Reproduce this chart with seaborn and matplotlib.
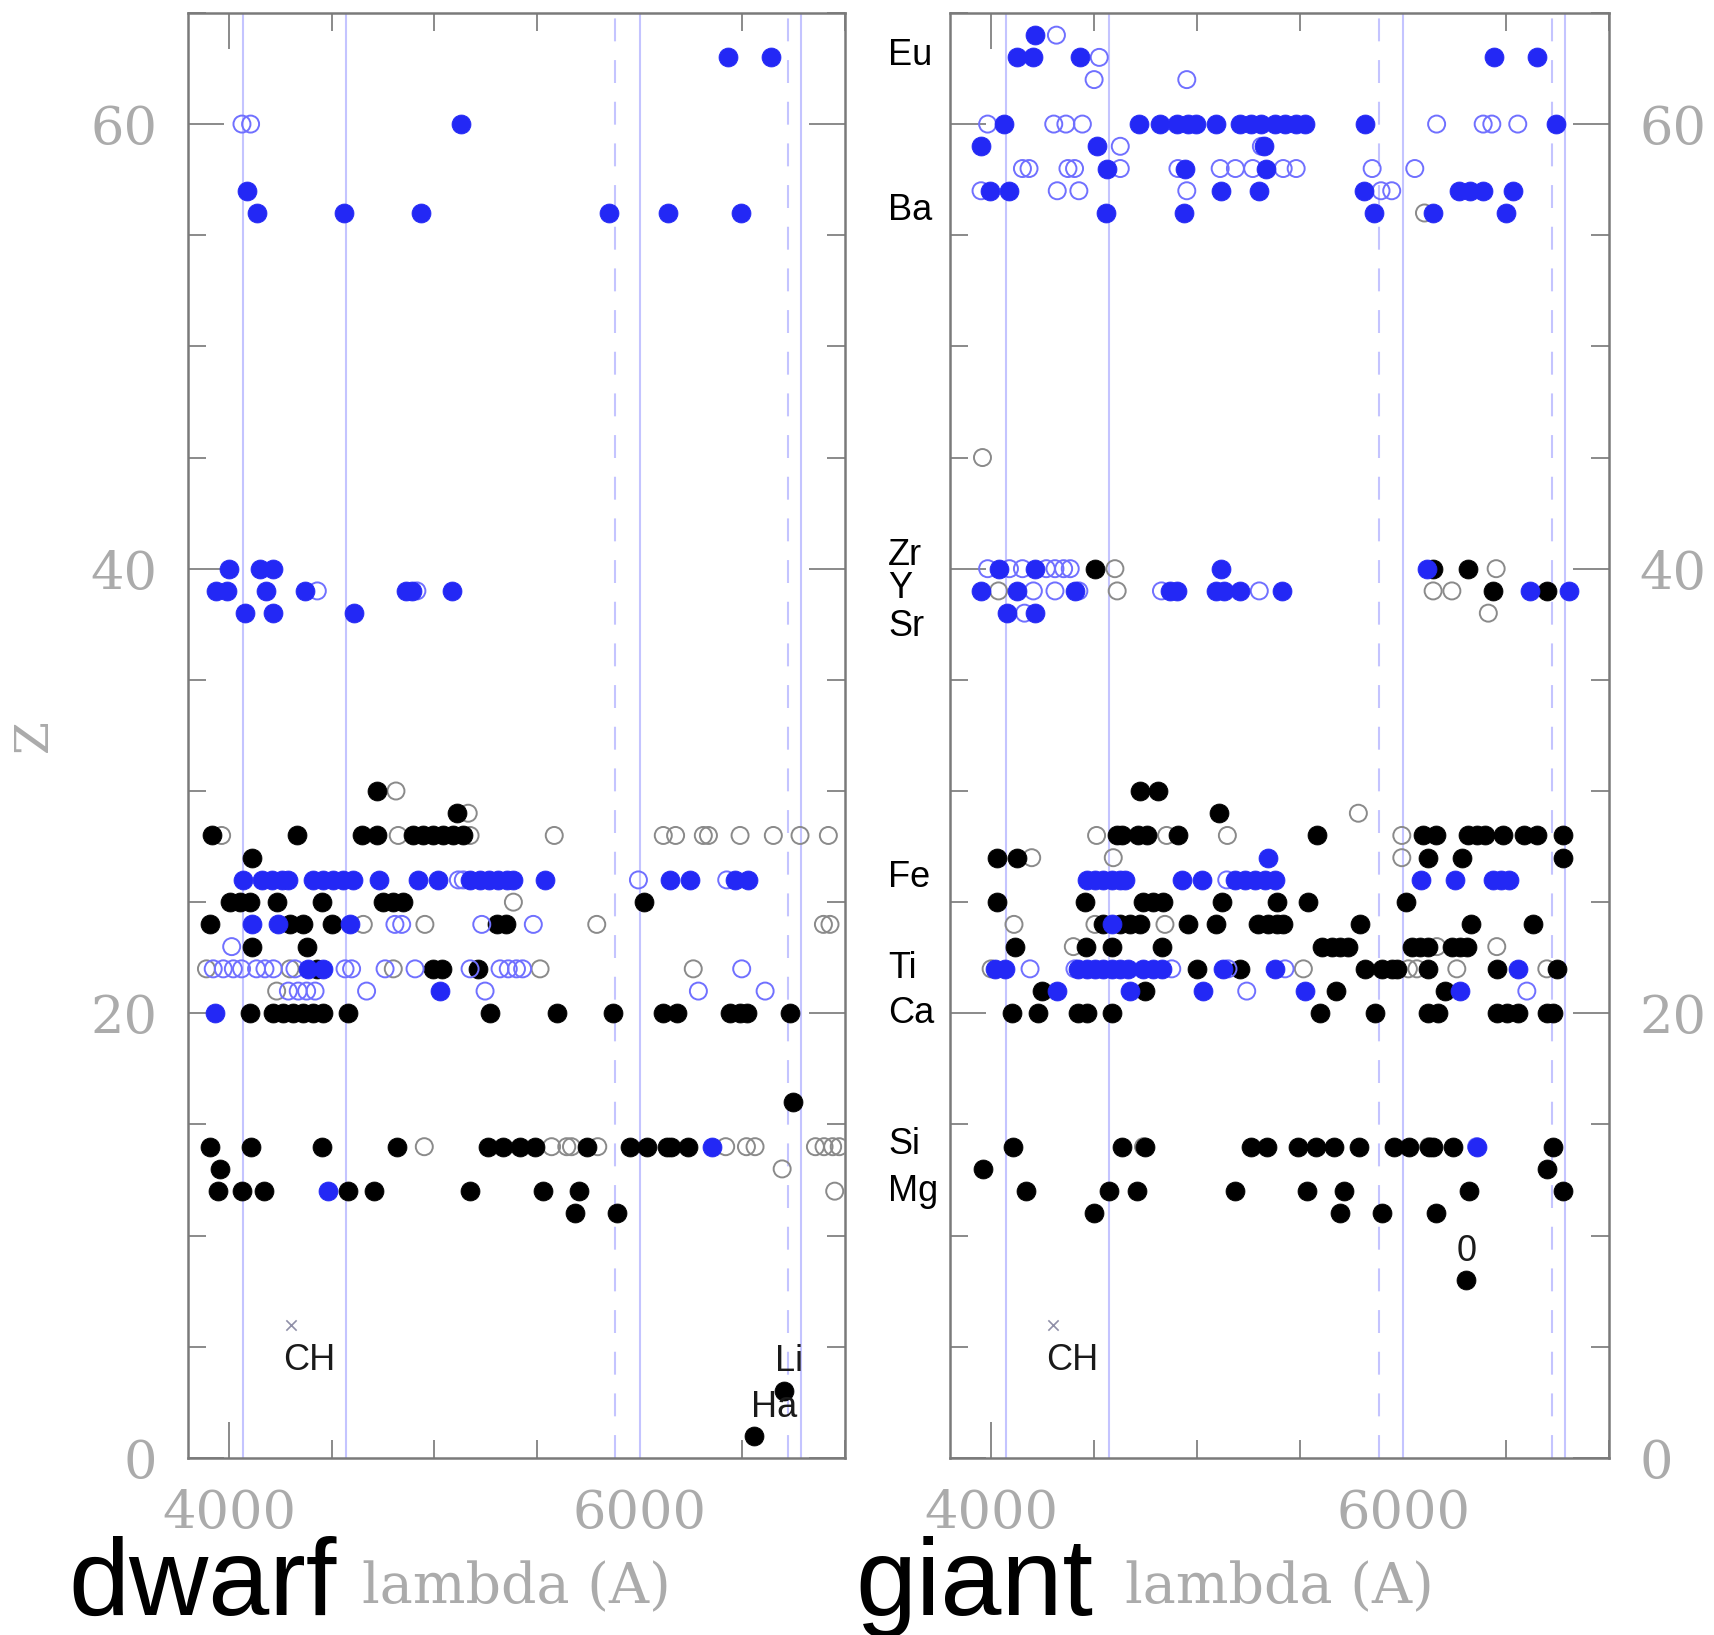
import matplotlib
matplotlib.use("Agg")
import numpy as np
import pandas as pd
import matplotlib.pyplot as plt
import seaborn as sns
from matplotlib.ticker import FixedLocator, MultipleLocator

# ---------------------------------------------------------------------------
# Line list: atomic number Z versus wavelength (Angstrom) of measured lines.
# Each dict maps Z -> wavelengths, split by panel and by symbol type.
# ---------------------------------------------------------------------------
dwarf_filled_black = {
    30: [4722],
    29: [5109],
    28: [3915, 4329, 4646, 4719, 4898, 4946, 4995, 5044, 5092, 5141],
    27: [4110],
    25: [4005, 4053, 4102, 4232, 4451, 4751, 4800, 4849, 6023],
    24: [3907, 4297, 4362, 4500, 5304, 5350],
    23: [4110, 4378],
    22: [4427, 4995, 5036, 5211],
    20: [4102, 4216, 4264, 4313, 4362, 4410, 4459, 4581, 5271, 5599, 5872,
         6115, 6180, 6440, 6489, 6521, 6732],
    16: [6747],
    14: [3906, 4105, 4452, 4819, 5260, 5334, 5418, 5491, 5743, 5953, 6037,
         6132, 6153, 6237],
    13: [3958],
    12: [3948, 4063, 4172, 4578, 4704, 5176, 5529, 5705],
    11: [5684, 5890],
    3: [6705],
    1: [6558],
}
dwarf_open_gray = {
    30: [4813],
    29: [5165],
    28: [3964, 4824, 5174, 5584, 6115, 6175, 6310, 6335, 6489, 6651, 6781, 6919],
    25: [5385],
    24: [4654, 4954, 5791, 6895, 6927],
    22: [3890, 4297, 4800, 5515, 6261],
    21: [4232],
    14: [4951, 5571, 5645, 5668, 5796, 6419, 6520, 6562, 6856, 6898, 6940, 6972],
    13: [6694],
    12: [6950],
}
dwarf_filled_blue = {
    63: [6432, 6642],
    60: [5130],
    57: [4088],
    56: [4137, 4559, 4935, 5852, 6136, 6493],
    40: [4000, 4153, 4214],
    39: [3937, 3990, 4180, 4368, 4861, 4893, 5088],
    38: [4080, 4216, 4609],
    26: [4070, 4159, 4208, 4258, 4289, 4410, 4459, 4508, 4557, 4606, 4732,
         4922, 5019, 5174, 5220, 5265, 5310, 5355, 5385, 5539, 6148, 6245,
         6464, 6529],
    24: [4110, 4240, 4589],
    22: [4386, 4459],
    21: [5027],
    20: [3932],
    14: [6350],
    12: [4483],
}
dwarf_open_blue = {
    60: [4063, 4105],
    39: [4430, 4915],
    26: [5117, 5141, 5994, 6424],
    24: [4808, 4841, 5231, 5482],
    23: [4013],
    22: [3923, 3972, 4021, 4061, 4134, 4175, 4216, 4321, 4565, 4597, 4760,
         4906, 5174, 5320, 5360, 5400, 5430, 6497],
    21: [4289, 4337, 4378, 4419, 4670, 5247, 6286, 6611],
}

giant_filled_black = {
    40: [4506, 6146, 6315],
    39: [6435, 6701],
    30: [4723, 4812],
    29: [5108],
    28: [4610, 4634, 4715, 4755, 4909, 5581, 6099, 6160, 6317, 6358, 6398,
         6487, 6585, 6650, 6779],
    27: [4027, 4124, 6123, 6285, 6779],
    25: [4030, 4456, 4739, 4787, 4836, 5120, 5390, 5537, 6013],
    24: [4545, 4626, 4674, 4723, 4957, 5092, 5297, 5346, 5390, 5419, 5791,
         6331, 6630],
    23: [4116, 4461, 4585, 4828, 5605, 5654, 5694, 5735, 6042, 6083, 6123,
         6237, 6277, 6310],
    22: [4998, 5209, 5816, 5897, 5945, 5970, 6123, 6455, 6747],
    21: [4245, 4747, 5675, 6204],
    20: [4100, 4229, 4423, 4464, 4585, 5597, 5864, 6123, 6172, 6455, 6504,
         6560, 6698, 6730],
    14: [4106, 4633, 4747, 5260, 5338, 5492, 5576, 5667, 5787, 5956, 6030,
         6125, 6146, 6241, 6726],
    13: [3962, 6701],
    12: [4169, 4574, 4707, 5182, 5534, 5713, 6321, 6775],
    11: [4500, 5692, 5899, 6161],
    8: [6308],
}
giant_open_gray = {
    56: [6104],
    45: [3958],
    40: [4601, 6452],
    39: [4036, 4612, 6146, 6237],
    38: [6414],
    29: [5783],
    28: [4512, 4852, 5147, 5994],
    27: [4197, 4593, 5994],
    24: [4111, 4504, 4844],
    23: [4399, 6164, 6455],
    22: [4000, 5516, 6026, 6067, 6261, 6698],
    14: [4740, 6125],
}
giant_filled_blue = {
    64: [4215],
    63: [4127, 4205, 4433, 6441, 6652],
    60: [4063, 4717, 4821, 4901, 4954, 4996, 5091, 5207, 5260, 5312, 5376,
         5428, 5481, 5523, 5815, 6743],
    59: [3951, 4515, 5323],
    58: [4563, 4943, 5334],
    57: [3994, 4089, 5118, 5302, 5808, 6272, 6325, 6389, 6536],
    56: [4557, 4937, 5861, 6146, 6500],
    40: [4036, 4215, 5118, 6114],
    39: [3951, 4127, 4405, 4869, 4901, 5091, 5133, 5207, 5412, 6616, 6804],
    38: [4078, 4215],
    27: [5346],
    26: [4464, 4504, 4545, 4585, 4626, 4650, 4925, 5022, 5184, 5233, 5281,
         5330, 5379, 6088, 6250, 6439, 6475, 6512],
    24: [4585],
    22: [4019, 4067, 4423, 4464, 4504, 4545, 4585, 4626, 4666, 4739, 4787,
         4828, 5128, 5379, 6560],
    21: [4318, 4674, 5030, 5524, 6277],
    14: [6357],
}
giant_open_blue = {
    64: [4317],
    63: [4525],
    62: [4500, 4950],
    60: [3983, 4304, 4363, 4443, 6163, 6389, 6431, 6557],
    59: [4627, 5312],
    58: [4152, 4184, 4373, 4405, 4627, 4907, 5112, 5186, 5270, 5418, 5481,
         5850, 6057],
    57: [3951, 4321, 4426, 4950, 5893, 5945],
    40: [3983, 4089, 4152, 4268, 4310, 4352, 4384],
    39: [4205, 4310, 4426, 4827, 5302],
    38: [4162],
    26: [5144],
    22: [4189, 4407, 4877, 5150, 5427],
    21: [5241, 6601],
    14: [6357],
}

# Reference wavelengths marked with vertical lines
solid_lines = [4070, 4570, 6000, 6785]
dashed_lines = [5882, 6722]

# Element names written beside the giant panel (name, Z position)
element_names = ["Eu", "Ba", "Zr", "Y", "Sr", "Fe", "Ti", "Ca", "Si", "Mg"]
element_label_z = [63.1, 56.1, 40.6, 39.1, 37.4, 26.1, 22.0, 20.0, 14.1, 12.0]

# Molecular / special features
ch_lambda, ch_z = 4302, 6
x_ticks = [4000, 6000]
y_ticks = [0, 20, 40, 60]


def to_frame(groups):
    rows = []
    for panel, kind, table in groups:
        for z, lams in table.items():
            for lam in lams:
                rows.append((panel, kind, lam, z))
    return pd.DataFrame(rows, columns=["panel", "kind", "lam", "Z"])


lines = to_frame([
    ("dwarf", "open_gray", dwarf_open_gray),
    ("dwarf", "filled_black", dwarf_filled_black),
    ("dwarf", "open_blue", dwarf_open_blue),
    ("dwarf", "filled_blue", dwarf_filled_blue),
    ("giant", "open_gray", giant_open_gray),
    ("giant", "filled_black", giant_filled_black),
    ("giant", "open_blue", giant_open_blue),
    ("giant", "filled_blue", giant_filled_blue),
])

kind_style = {
    "open_gray": dict(color="#8a8a8a", facecolor="none", edgecolor="#8a8a8a",
                      linewidth=1.4, s=150),
    "filled_black": dict(color="black", edgecolor="black", linewidth=0.6, s=185),
    "open_blue": dict(color="#7070ff", facecolor="none", edgecolor="#7070ff",
                      linewidth=1.4, s=150),
    "filled_blue": dict(color="#2328f5", edgecolor="#2328f5", linewidth=0.6, s=185),
}
draw_order = ["open_gray", "filled_black", "open_blue", "filled_blue"]

sns.set_theme(style="white")
plt.rcParams["font.family"] = ["DejaVu Serif"]

fig = plt.figure(figsize=(17.15, 16.35), dpi=100)
ax_d = fig.add_axes([0.1096, 0.1083, 0.3831, 0.8838])
ax_g = fig.add_axes([0.5539, 0.1083, 0.3843, 0.8838])

tick_color = "#ababab"
line_blue = "#c4c4ff"

for ax, panel in [(ax_d, "dwarf"), (ax_g, "giant")]:
    for x in solid_lines:
        ax.axvline(x, color=line_blue, lw=1.5, zorder=1)
    for x in dashed_lines:
        ax.axvline(x, color=line_blue, lw=1.5, ls=(0, (11, 9)), zorder=1)

    sub = lines[lines["panel"] == panel]
    for kind in draw_order:
        part = sub[sub["kind"] == kind]
        sns.scatterplot(data=part, x="lam", y="Z", ax=ax, marker="o",
                        legend=False, zorder=3, **kind_style[kind])

    # CH band marker
    ax.scatter([ch_lambda], [ch_z], marker="x", s=55, color="#9090a8",
               linewidths=1.2, zorder=3)
    ax.text(4393, 4.4, "CH", fontsize=26, family="Liberation Sans",
            color="#1a1a1a", ha="center", va="center")

    ax.set_xlim(3800, 7000)
    ax.set_ylim(0, 65)
    ax.xaxis.set_major_locator(FixedLocator(x_ticks))
    ax.xaxis.set_minor_locator(MultipleLocator(500))
    ax.yaxis.set_major_locator(FixedLocator(y_ticks))
    ax.yaxis.set_minor_locator(MultipleLocator(5))
    ax.tick_params(which="both", direction="in", top=True, right=True,
                   bottom=True, left=True, color="#8a8a8a", width=1.4)
    ax.tick_params(which="major", length=26, labelsize=38,
                   labelcolor=tick_color, pad=22)
    ax.tick_params(which="minor", length=13)
    for sp in ax.spines.values():
        sp.set_color("#7a7a7a")
        sp.set_linewidth(1.8)
    ax.set_xlabel("lambda (A)", fontsize=40, color=tick_color, labelpad=15)
    ax.set_ylabel("")
    ax.grid(False)

ax_d.set_ylabel("Z", fontsize=34, color=tick_color, labelpad=24)
ax_g.tick_params(axis="y", labelleft=False, labelright=True)

# Labels inside the dwarf panel
ax_d.text(6727, 4.33, "Li", fontsize=26, family="Liberation Sans",
          color="#1a1a1a", ha="center", va="center")
ax_d.text(6653, 2.26, "Ha", fontsize=26, family="Liberation Sans",
          color="#1a1a1a", ha="center", va="center")
# Oxygen label in the giant panel
ax_g.text(6308, 9.3, "0", fontsize=26, family="Liberation Sans",
          color="#1a1a1a", ha="center", va="center")

# Element names to the left of the giant panel
for name, z in zip(element_names, element_label_z):
    ax_g.text(3499, z, name, fontsize=26, family="Liberation Sans",
              color="black", ha="left", va="center", clip_on=False)

fig.text(0.0397, 0.0125, "dwarf", fontsize=79, family="Liberation Sans",
         color="black", va="baseline", ha="left")
fig.text(0.4990, 0.0125, "giant", fontsize=79, family="Liberation Sans",
         color="black", va="baseline", ha="left")

fig.savefig("out.png", dpi=100, facecolor="white")
